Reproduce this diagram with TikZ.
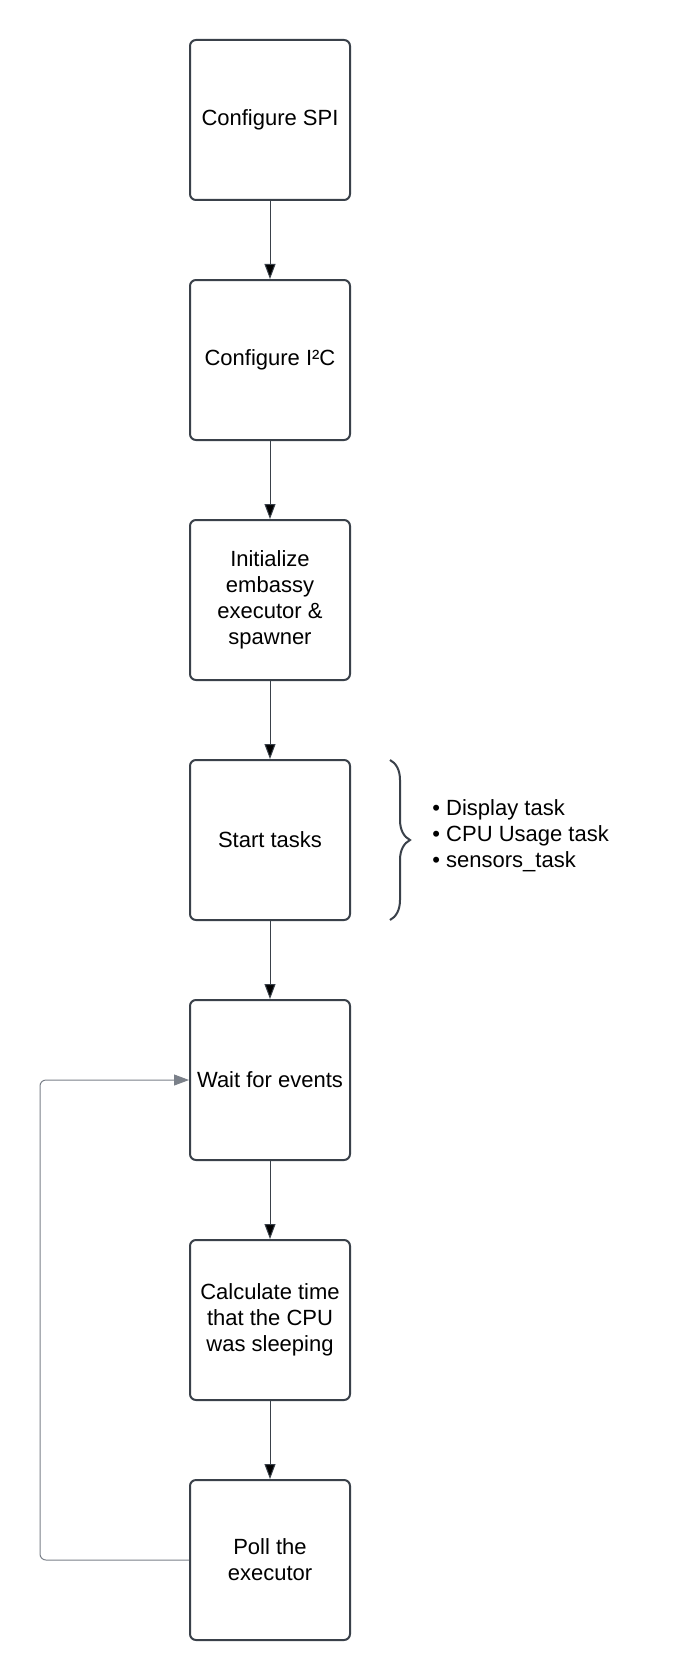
\documentclass[tikz,border=0pt]{standalone}
\usepackage{fontspec}
\setmainfont{Liberation Sans}
\usepackage{tikz}
\usetikzlibrary{arrows.meta,decorations.pathreplacing}

\definecolor{boxline}{HTML}{3A414A}
\definecolor{loopgray}{HTML}{7A8089}

\tikzset{
  block/.style={draw=boxline, line width=1pt, rounded corners=3pt, minimum width=80pt,
    minimum height=80pt, inner sep=0pt, align=center,
    font=\fontsize{11}{13}\selectfont},
  flow/.style={-{Triangle[length=7.5pt,width=5.5pt]}, draw=boxline, line width=0.5pt},
  loopline/.style={-{Triangle[length=7.5pt,width=5.5pt]}, draw=loopgray, line width=0.5pt, rounded corners=3pt}
}

\begin{document}
\begin{tikzpicture}[x=20pt,y=20pt]
  \useasboundingbox (0,0) rectangle (17.25,-42);

    \node[block] (spi) at (6.75,-3) {Configure SPI};
    \node[block] (i2c) at (6.75,-9) {Configure I²C};
    \node[block] (init) at (6.75,-15) {Initialize\\embassy\\executor \&\\spawner};
    \node[block] (start) at (6.75,-21) {Start tasks};
    \node[block] (wait) at (6.75,-27) {Wait for events};
    \node[block] (calc) at (6.75,-33) {Calculate time\\that the CPU\\was sleeping};
    \node[block] (poll) at (6.75,-39) {Poll the\\executor};

       \path[flow] (spi) edge (i2c);
       \path[flow] (i2c) edge (init);
       \path[flow] (init) edge (start);
       \path[flow] (start) edge (wait);
       \path[flow] (wait) edge (calc);
       \path[flow] (calc) edge (poll);

    % loop back from polling to waiting
    \coordinate (loopb) at (1,-39);
    \coordinate (loopt) at (1,-27);
       \draw[loopline] (poll.west) -- (loopb) -- (loopt) -- (wait.west);

    % tasks started
    \coordinate (brtop) at (9.75,-19);
    \coordinate (brbot) at (9.75,-23);
       \draw[boxline, line width=1pt, decorate, decoration={brace, amplitude=10pt}] (brtop) -- (brbot);
    \node[anchor=west, align=left, inner sep=0pt, font=\fontsize{11}{13}\selectfont] (tasks) at (10.8,-20.9)
      {\textbullet\ Display task\\\textbullet\ CPU Usage task\\\textbullet\ sensors\_task};

\end{tikzpicture}
\end{document}
